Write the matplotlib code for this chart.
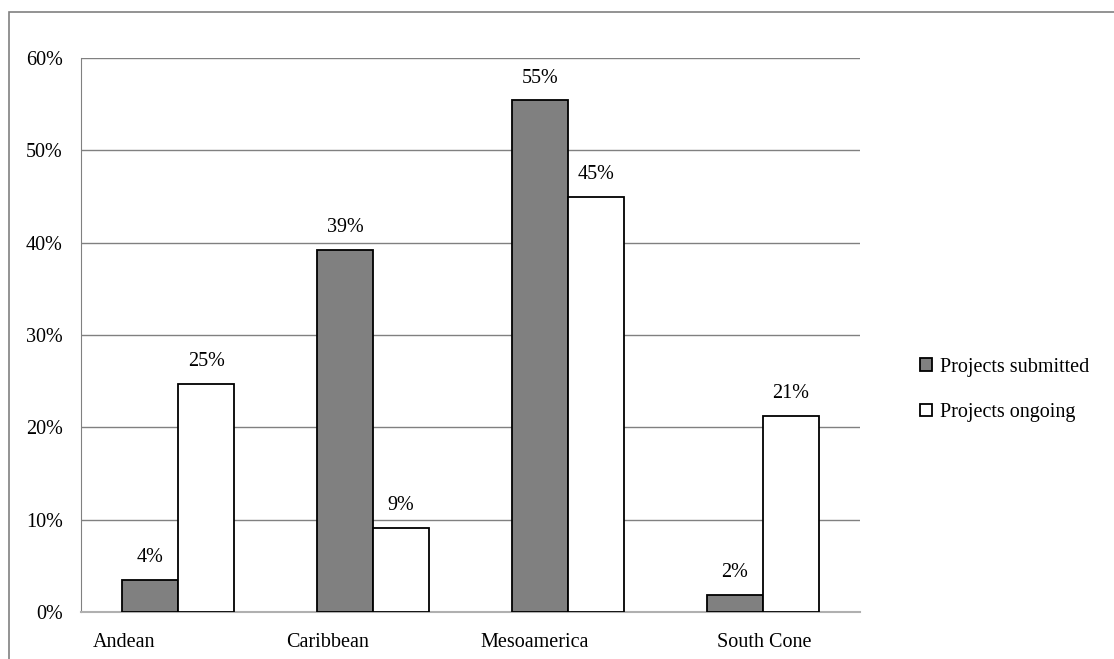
import numpy as np
import matplotlib.pyplot as plt
from matplotlib.patches import Rectangle

# data
regions = ['Andean', 'Caribbean', 'Mesoamerica', 'South Cone']
submitted = [3.5, 39.2, 55.4, 1.8]
ongoing = [24.7, 9.1, 45.0, 21.2]
submitted_lbl = ['4%', '39%', '55%', '2%']
ongoing_lbl = ['25%', '9%', '45%', '21%']
yticks = [0, 10, 20, 30, 40, 50, 60]

plt.rcParams['font.family'] = ['Liberation Serif', 'DejaVu Serif']
FS = 14.5

fig = plt.figure(figsize=(11.14, 6.59), dpi=100)
W, H = 1114, 659
ax = fig.add_axes([81 / W, 1 - 612 / H, (860 - 81) / W, (612 - 58) / H])

# outer chart border
fig.patches.append(Rectangle((9 / W, -0.1), 1.2, 1 - 12 / H + 0.1, transform=fig.transFigure,
                             fill=False, edgecolor='#808080', linewidth=1.2))

x = np.arange(len(regions))
bw = 0.288
b1 = ax.bar(x - bw / 2, submitted, bw, color='#808080', edgecolor='black', linewidth=1.3,
            label='Projects submitted', zorder=3)
b2 = ax.bar(x + bw / 2, ongoing, bw, color='white', edgecolor='black', linewidth=1.3,
            label='Projects ongoing', zorder=3)

for rect, t in zip(b1, submitted_lbl):
    ax.text(rect.get_x() + rect.get_width() / 2, rect.get_height() + 1.4, t,
            ha='center', va='bottom', fontsize=FS)
for rect, t in zip(b2, ongoing_lbl):
    ax.text(rect.get_x() + rect.get_width() / 2, rect.get_height() + 1.4, t,
            ha='center', va='bottom', fontsize=FS)

ax.set_xlim(-0.5, len(regions) - 0.5)
ax.set_ylim(0, 60)
ax.set_yticks(yticks)
ax.set_yticklabels([f'{v}%' for v in yticks], fontsize=FS)
ax.tick_params(axis='y', length=0, pad=13)
ax.set_xticks([])
ax.yaxis.grid(True, color='#808080', linewidth=1)
ax.set_axisbelow(True)

# category labels (placed where the original puts them)
label_x = [-0.279, 0.768, 1.831, 3.007]
for lx, name in zip(label_x, regions):
    ax.text(lx, -3.3, name, ha='center', va='center', fontsize=FS)

for s in ['top', 'right']:
    ax.spines[s].set_visible(False)
ax.spines['left'].set_color('#808080')
ax.spines['bottom'].set_color('#b0b0b0')
ax.spines['bottom'].set_linewidth(1.5)

ax.legend(loc='center left', bbox_to_anchor=(902 / W, 1 - 390 / H), bbox_transform=fig.transFigure,
          frameon=False, fontsize=FS, handlelength=0.6, handleheight=0.6,
          handletextpad=0.4, labelspacing=1.3)

fig.savefig('out.png', dpi=100)
